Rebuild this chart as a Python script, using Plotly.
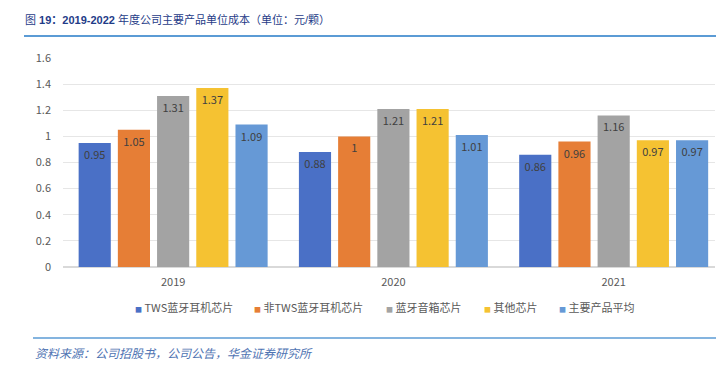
import plotly.graph_objects as go

years = ["2019", "2020", "2021"]
series_names = ["TWS蓝牙耳机芯片", "非TWS蓝牙耳机芯片", "蓝牙音箱芯片", "其他芯片", "主要产品平均"]
tws = [0.95, 0.88, 0.86]
non_tws = [1.05, 1.00, 0.96]
speaker = [1.31, 1.21, 1.16]
other = [1.37, 1.21, 0.97]
average = [1.09, 1.01, 0.97]
y_ticks = [0, 0.2, 0.4, 0.6, 0.8, 1.0, 1.2, 1.4, 1.6]
y_tick_labels = ["0", "0.2", "0.4", "0.6", "0.8", "1", "1.2", "1.4", "1.6"]

colors = ["#4A70C6", "#E67E36", "#A3A3A3", "#F5C232", "#6699D6"]
values = [tws, non_tws, speaker, other, average]

FONT = "Noto Sans CJK SC, Noto Sans, sans-serif"

# page body has an 8px margin; work in page coordinates and shift
OFF = 8
W, H = 724 - OFF, 369 - OFF
L_PX, R_PX, T_PX, B_PX = 63, 715, 58, 267  # plot area in page coords
l, r, t, b = L_PX - OFF, W - (R_PX - OFF), T_PX - OFF, H - (B_PX - OFF)
PW, PH = W - l - r, H - t - b


def px(xp):
    return (xp - L_PX) / PW


def py(yp):
    return (B_PX - yp) / PH


fig = go.Figure()
for name, vals, col in zip(series_names, values, colors):
    fig.add_trace(go.Bar(
        x=years, y=vals, name=name,
        marker=dict(color=col, line=dict(width=0)),
        text=[f"{v:g}" for v in vals],
        textposition="inside", insidetextanchor="end",
        textfont=dict(size=11, color="#404040", family=FONT),
        textangle=0,
    ))

fig.update_layout(
    width=W, height=H,
    margin=dict(l=l, r=r, t=t, b=b),
    paper_bgcolor="white", plot_bgcolor="white",
    barmode="group", bargap=0.11, bargroupgap=0.18,
    font=dict(family=FONT, size=11, color="#595959"),
    showlegend=False,
    xaxis=dict(range=[-0.5, 2.46], showgrid=False, showline=False, ticks="",
               tickfont=dict(size=11, color="#595959"), ticklabelstandoff=7),
    yaxis=dict(range=[0, 1.6], tickvals=y_ticks, ticktext=y_tick_labels,
               showgrid=True, gridcolor="#E6E6E6", gridwidth=1, zeroline=True,
               zerolinecolor="#D9D9D9", showline=False, ticks="",
               tickfont=dict(size=11, color="#595959"), ticklabelstandoff=11),
)

# legend as text entries
legend_x = [133, 252, 384, 482, 557]
for name, col, xl in zip(series_names, colors, legend_x):
    fig.add_annotation(xref="paper", yref="paper", x=px(xl), y=py(307),
                       xanchor="left", yanchor="middle", showarrow=False,
                       text=f"<span style='color:{col};font-size:7px'>■</span> {name}",
                       font=dict(size=11, color="#595959", family=FONT))

# header title and rules
fig.add_annotation(xref="paper", yref="paper", x=px(23), y=py(20),
                   xanchor="left", yanchor="middle", showarrow=False,
                   text="图 <b>19：2019-2022</b> 年度公司主要产品单位成本（单位：元/颗）",
                   font=dict(size=11, color="#1F3C88",
                             family="Liberation Sans, Noto Sans CJK SC, sans-serif"))
fig.add_shape(type="line", xref="paper", yref="paper",
              x0=px(24), x1=px(720), y0=py(36), y1=py(36),
              line=dict(color="#5B9BD5", width=2))
fig.add_shape(type="line", xref="paper", yref="paper",
              x0=px(33), x1=px(720), y0=py(338), y1=py(338),
              line=dict(color="#5B9BD5", width=1.5))
fig.add_annotation(xref="paper", yref="paper", x=px(33), y=py(352),
                   xanchor="left", yanchor="middle", showarrow=False,
                   text="<i>资料来源：公司招股书，公司公告，华金证券研究所</i>",
                   font=dict(size=12, color="#4F74B3", family=FONT))

fig.write_html("out.html")
